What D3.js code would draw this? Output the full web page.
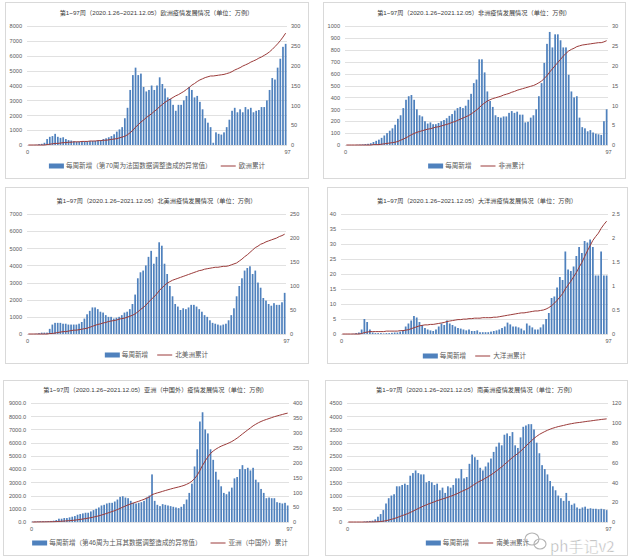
<!DOCTYPE html>
<html><head><meta charset="utf-8">
<script src="https://cdn.jsdelivr.net/npm/d3@7"></script>
<style>
body{margin:0;background:#fff;}
svg{display:block;font-family:"Liberation Sans",Arial,"Noto Sans CJK SC",sans-serif;}
</style></head><body>
<svg id="chart" width="631" height="559"></svg>
<script>
// ---------- data ----------
const weeks = d3.range(1, 98); // week 1..97
const period = "第1~97周（2020.1.26~2021.12.05）";

const europeWeekly = [0,0,5,20,60,80,150,400,550,600, 750,550,480,520,400,330,300,250,220,230, 220,240,250,260,270,280,300,330,400,450, 520,600,720,900,1050,1200,1800,2500,3700,4700, 5200,4700,4800,3900,3600,3700,4000,3700,4000,4550, 4100,3800,3200,3100,2700,2300,2700,2700,3000,3300, 3900,3700,3200,3300,2900,2400,1800,1500,1200,150, 850,750,700,850,1200,1700,2300,2500,2200,2400, 2200,2550,2400,2500,2200,2300,2350,2550,2550,3000, 3700,4500,4400,5200,5800,6600,6800];
const europeTotal = [0,0,0,0,0,0,0,1,2,3, 4,4,5,6,6,7,7,8,8,8, 9,9,9,10,10,10,11,11,12,12, 13,14,15,16,18,20,22,26,31,37, 45,51,58,63,69,74,79,85,90,97, 102,108,112,116,120,124,127,131,135,140, 145,151,155,160,164,167,170,172,174,174, 175,176,177,178,180,182,185,189,192,195, 199,202,205,209,212,215,219,222,226,230, 235,241,248,255,263,272,282];

const africaWeekly = [0,0,0,0,2,3,5,8,10,15, 25,35,45,60,80,100,120,140,170,220, 250,310,380,410,420,380,300,250,240,200, 180,190,175,175,185,200,210,225,245,260, 290,310,320,310,330,380,430,520,550,720, 720,610,450,370,320,250,235,230,240,240, 270,285,270,280,255,255,190,195,230,250, 300,410,520,690,850,950,820,930,930,880, 820,820,590,450,400,410,230,150,140,115, 125,105,95,90,85,200,300];
const africaTotal = [0,0,0,0,0,0,0,0,0,0, 0.1,0.1,0.1,0.2,0.3,0.4,0.5,0.6,0.7,0.9, 1.2,1.5,1.8,2.2,2.6,2.9,3.2,3.4,3.6,3.8, 4.0,4.1,4.3,4.5,4.6,4.8,5.0,5.2,5.4,5.7, 5.9,6.2,6.5,6.8,7.1,7.4,7.8,8.3,8.8,9.4, 10.1,10.6,11.1,11.4,11.7,11.9,12.1,12.3,12.6,12.8, 13.0,13.3,13.5,13.8,14.0,14.2,14.4,14.6,14.8,15.0, 15.3,15.7,16.1,16.8,17.5,18.4,19.2,20.0,20.8,21.6, 22.4,23.1,23.7,24.1,24.4,24.8,25.0,25.2,25.3,25.4, 25.5,25.6,25.7,25.8,25.8,26.0,26.3];

const namWeekly = [0,0,5,20,50,80,80,80,300,550, 650,650,650,600,600,550,550,550,550,600, 700,900,1150,1350,1550,1550,1450,1300,1250,1100, 1000,1000,900,950,1000,1100,1250,1300,1450,1750, 2300,3250,3600,3700,4000,4500,4850,4100,4500,5350, 5150,4100,3500,2800,2200,1750,1600,1400,1500,1450, 1550,1700,1700,1600,1450,1300,1100,1000,800,650, 600,550,500,550,600,800,1100,1500,2200,2800, 3250,3700,3850,3950,3500,3700,3000,2700,2100,1950, 1750,1650,1800,1700,1700,1850,2400];
const namTotal = [0,0,0,0,0,0,0,0,1,1, 2,3,4,5,5,6,7,8,8,9, 10,11,12,14,16,18,20,21,23,24, 26,27,28,29,31,32,33,35,37,39, 42,46,51,55,60,66,72,77,83,90, 96,101,106,109,112,114,116,118,120,122, 124,126,128,130,132,133,135,136,137,138, 139,139,140,141,141,142,144,146,148,152, 156,161,165,170,175,180,183,187,189,192, 194,196,198,200,203,205,208];

const oceWeekly = [0,0,0,0,0.1,0.3,0.5,1.5,5,4, 1.5,0.5,0.3,0.3,0.3,0.2,0.3,0.3,0.4,0.5, 0.5,0.8,1.2,2.5,3.5,4.5,6,5.5,4,3, 2,1.5,1.2,1,1.5,2.5,3.5,3,4.5,3.5, 3,2.5,2,1.8,1.5,1.2,1.5,1,1,1.2, 0.6,0.6,0.6,0.6,0.8,1,1.2,1.5,2,2.5, 3.8,3.2,2.5,2.5,2.2,1.8,1.2,3.5,2.8,2.2, 1.5,1.5,2.2,3.2,5,7,12,12.5,15.5,19, 18,27.5,21.5,21,22.5,26,29,27,31,30.5, 31.5,29,19.5,19.5,27.5,19.5,19.5];
const oceTotal = [0,0,0,0,0,0,0,0.01,0.03,0.04, 0.05,0.05,0.05,0.05,0.05,0.05,0.06,0.06,0.06,0.06, 0.06,0.07,0.07,0.08,0.09,0.11,0.13,0.15,0.17,0.18, 0.19,0.19,0.2,0.2,0.21,0.22,0.23,0.24,0.26,0.27, 0.28,0.29,0.3,0.3,0.31,0.31,0.32,0.32,0.33,0.33, 0.33,0.34,0.34,0.34,0.34,0.35,0.35,0.36,0.37,0.38, 0.39,0.4,0.41,0.42,0.43,0.44,0.44,0.45,0.46,0.47, 0.48,0.48,0.49,0.5,0.52,0.55,0.59,0.64,0.7,0.77, 0.84,0.94,1.02,1.1,1.19,1.28,1.39,1.49,1.61,1.73, 1.84,1.95,2.03,2.1,2.2,2.28,2.35];

const asiaWeekly = [30,40,50,60,60,60,70,80,100,150, 250,250,300,300,350,400,450,550,600,650, 700,700,800,900,1000,1100,1250,1300,1400,1450, 1450,1550,1700,1900,1950,1850,1800,1600,1450,1400, 1450,1500,1600,1850,2000,3600,1600,1300,1200,1350, 1300,1250,1200,1150,1100,1050,1150,1350,1700,2200, 2900,4200,5500,7600,8300,7000,6700,5500,4700,3800, 3200,2700,2200,2100,2300,2600,3300,3400,4000,4300, 4000,4100,3900,4100,3200,3000,2500,2200,1800,1850, 1800,1800,1500,1450,1400,1450,1250];
const asiaTotal = [0,0.1,0.3,0.4,0.5,0.6,0.8,0.9,1.1,1.5, 2.0,2.5,3.1,3.8,4.5,5.3,6.3,7.4,8.6,10.0, 11.5,12.9,14.6,16.5,18.5,20.8,23.4,26.1,29.1,32.1, 35.1,38.3,41.9,45.8,49.9,53.8,57.5,60.8,63.9,66.8, 69.8,72.9,76.3,80.1,84.3,91.8,95.1,97.8,100.3,103.1, 105.8,108.4,110.9,113.3,115.6,117.8,120.2,123.0,126.6,131.1, 137.2,145.9,157.4,173.2,190.5,205.1,219.1,230.5,238.5,244.9, 250.3,254.9,258.6,262.2,266.1,270.5,276.1,281.9,288.7,296.0, 302.8,309.7,316.3,323.2,328.6,333.7,337.9,341.6,344.7,347.8, 350.9,354.0,356.5,359.0,361.4,363.9,366.0];

const samWeekly = [0,0,0,0,0,0,20,30,40,50, 100,200,300,450,700,900,1000,1050,1350,1350, 1400,1450,1400,1750,1850,1950,1850,1800,1800,1500, 1550,1500,1400,1450,1200,1300,1100,1350,1300,1400, 1650,1650,2000,1650,1700,2200,2550,2450,2350,2050, 1950,2100,2250,2400,2650,2850,3000,2900,3300,3350, 3250,3400,2900,2800,3200,3600,3650,3700,3700,3500, 3000,2600,2150,2000,1800,1550,1350,1200,1000,900, 800,1100,800,650,700,550,500,550,580,500, 520,500,500,480,500,480,450];
const samTotal = [0,0,0,0,0,0,0,0,0.1,0.1, 0.2,0.3,0.5,0.8,1.3,2.0,2.7,3.4,4.4,5.4, 6.4,7.4,8.4,9.6,10.9,12.3,13.6,14.9,16.2,17.3, 18.4,19.4,20.4,21.5,22.3,23.3,24.0,25.0,25.9,26.9, 28.1,29.3,30.7,31.9,33.1,34.6,36.4,38.2,39.9,41.3, 42.7,44.2,45.8,47.5,49.4,51.4,53.5,55.6,58.0,60.3, 62.7,65.1,67.1,69.1,71.4,74.0,76.6,79.2,81.8,84.3, 86.4,88.3,89.8,91.2,92.5,93.6,94.6,95.4,96.2,96.8, 97.4,98.1,98.7,99.2,99.7,100.1,100.4,100.8,101.2,101.6, 101.9,102.3,102.7,103.0,103.4,103.7,104.0];

// tick labels
const europeLeftTicks = [0,1000,2000,3000,4000,5000,6000,7000,8000];
const europeRightTicks = [0,50,100,150,200,250,300];
const africaLeftTicks = [0,100,200,300,400,500,600,700,800,900,1000];
const africaRightTicks = [0,5,10,15,20,25,30];
const namLeftTicks = [0,1000,2000,3000,4000,5000,6000,7000];
const namRightTicks = [0,50,100,150,200,250];
const oceLeftTicks = [0,5,10,15,20,25,30,35,40];
const oceRightTicks = [0,0.5,1,1.5,2,2.5];
const asiaLeftTicks = [0,1000,2000,3000,4000,5000,6000,7000,8000,9000];
const asiaRightTicks = [0,50,100,150,200,250,300,350,400];
const samLeftTicks = [0,500,1000,1500,2000,2500,3000,3500,4000,4500];
const samRightTicks = [0,20,40,60,80,100,120];
const xTicks = [0, 97];

const titles = [
  period + "欧洲疫情发展情况（单位：万例）",
  period + "非洲疫情发展情况（单位：万例）",
  period + "北美洲疫情发展情况（单位：万例）",
  period + "大洋洲疫情发展情况（单位：万例）",
  period + "亚洲（中国外）疫情发展情况（单位：万例）",
  period + "南美洲疫情发展情况（单位：万例）"
];
const barLabels = [
  "每周新增（第70周为法国数据调整造成的异常值）", "每周新增", "每周新增",
  "每周新增", "每周新增（第46周为土耳其数据调整造成的异常值）", "每周新增"
];
const lineLabels = ["欧洲累计","非洲累计","北美洲累计","大洋洲累计","亚洲（中国外）累计","南美洲累计"];

// ---------- layout ----------
const BAR = "#4f81bd", LINE = "#9b3b3a", GRID = "#d9d9d9", TXT = "#595959";
const panels = [
  {weekly: europeWeekly, total: europeTotal, lt: europeLeftTicks, rt: europeRightTicks, box:[5,2,303,176], x0:27, x1:287, top:26, bottom:145, titleY:13, legendY:166},
  {weekly: africaWeekly, total: africaTotal, lt: africaLeftTicks, rt: africaRightTicks, box:[323,2,302,176], x0:345, x1:608, top:26, bottom:145, titleY:13, legendY:166},
  {weekly: namWeekly, total: namTotal, lt: namLeftTicks, rt: namRightTicks, box:[5,187,303,176], x0:27, x1:286, top:214, bottom:334, titleY:201, legendY:355},
  {weekly: oceWeekly, total: oceTotal, lt: oceLeftTicks, rt: oceRightTicks, box:[327,187,300,176], x0:341, x1:608, top:214, bottom:334, titleY:201, legendY:356},
  {weekly: asiaWeekly, total: asiaTotal, lt: asiaLeftTicks, rt: asiaRightTicks, box:[3,380,305,175], x0:31, x1:289, top:403, bottom:522, titleY:390, legendY:543, leftFmt: d3.format(".1f")},
  {weekly: samWeekly, total: samTotal, lt: samLeftTicks, rt: samRightTicks, box:[325,380,302,175], x0:347, x1:608, top:403, bottom:522, titleY:390, legendY:543}
];

const svg = d3.select("#chart");
svg.append("rect").attr("width",631).attr("height",559).attr("fill","#fff");

panels.forEach((p, idx) => {
  const g = svg.append("g");
  g.append("rect").attr("x",p.box[0]+0.5).attr("y",p.box[1]+0.5).attr("width",p.box[2]).attr("height",p.box[3])
    .attr("fill","#fff").attr("stroke","#d9d9d9").attr("stroke-width",1);

  const x = d3.scaleLinear().domain([0, 97]).range([p.x0, p.x1]);
  const yL = d3.scaleLinear().domain([0, d3.max(p.lt)]).range([p.bottom, p.top]);
  const yR = d3.scaleLinear().domain([0, d3.max(p.rt)]).range([p.bottom, p.top]);

  // gridlines
  g.append("g").selectAll("line").data(p.lt).join("line")
    .attr("x1",p.x0).attr("x2",p.x1)
    .attr("y1",d=>Math.round(yL(d))+0.5).attr("y2",d=>Math.round(yL(d))+0.5)
    .attr("stroke",GRID).attr("stroke-width",0.8);

  // axes
  const leftAxis = d3.axisLeft(yL).tickValues(p.lt).tickSize(0).tickPadding(5)
    .tickFormat(p.leftFmt || (d=>String(d)));
  const ga = g.append("g").attr("transform",`translate(${p.x0},0)`).call(leftAxis);
  const rightAxis = d3.axisRight(yR).tickValues(p.rt).tickSize(0).tickPadding(4).tickFormat(d=>String(d));
  const gr = g.append("g").attr("transform",`translate(${p.x1},0)`).call(rightAxis);
  const bottomAxis = d3.axisBottom(x).tickValues(xTicks).tickSize(0).tickPadding(5).tickFormat(d=>String(d));
  const gb = g.append("g").attr("transform",`translate(0,${p.bottom})`).call(bottomAxis);
  [ga,gr,gb].forEach(a=>{
    a.select(".domain").remove();
    a.selectAll("text").attr("font-size","5.6px").attr("fill",TXT).attr("font-family","Liberation Sans, Arial, sans-serif");
  });

  // bars
  const step = x(1) - x(0);
  const bw = step * 0.64;
  g.append("g").selectAll("rect").data(p.weekly).join("rect")
    .attr("x",(d,i)=>x(weeks[i]-0.5)-bw/2)
    .attr("y",d=>yL(d))
    .attr("width",bw)
    .attr("height",d=>p.bottom-yL(d))
    .attr("fill",BAR);

  // cumulative line
  const line = d3.line().x((d,i)=>x(weeks[i]-0.5)).y(d=>yR(d));
  g.append("path").datum(p.total).attr("d",line).attr("fill","none")
    .attr("stroke",LINE).attr("stroke-width",1);

  // title
  const cx = p.box[0] + p.box[2]/2;
  g.append("text").attr("x",cx).attr("y",p.titleY).attr("dy","0.35em")
    .attr("text-anchor","middle").attr("font-size","6.2px").attr("fill","#404040").text(titles[idx]);

  // legend
  const lg = g.append("g");
  const t1 = lg.append("text").attr("font-size","6.6px").attr("fill",TXT).attr("dy","0.35em").text(barLabels[idx]);
  const t2 = lg.append("text").attr("font-size","6.6px").attr("fill",TXT).attr("dy","0.35em").text(lineLabels[idx]);
  const w1 = t1.node().getComputedTextLength(), w2 = t2.node().getComputedTextLength();
  const total = 15 + 2 + w1 + 9 + 15 + 3 + w2;
  let lx = (p.x0 + p.x1)/2 - total/2;
  lg.append("rect").attr("x",lx).attr("y",p.legendY-2.5).attr("width",15).attr("height",5).attr("fill",BAR);
  t1.attr("x",lx+17).attr("y",p.legendY);
  const lx2 = lx + 17 + w1 + 9;
  lg.append("line").attr("x1",lx2).attr("x2",lx2+15).attr("y1",p.legendY).attr("y2",p.legendY)
    .attr("stroke",LINE).attr("stroke-width",1);
  t2.attr("x",lx2+18).attr("y",p.legendY);
});

// watermark
const wm = svg.append("g").attr("opacity",0.75);
wm.append("ellipse").attr("cx",532).attr("cy",539).attr("rx",7).attr("ry",6).attr("fill","none").attr("stroke","#9a9a9a").attr("stroke-width",1.1);
wm.append("ellipse").attr("cx",540).attr("cy",544).attr("rx",6).attr("ry",5).attr("fill","none").attr("stroke","#9a9a9a").attr("stroke-width",1.1);
wm.append("text").attr("x",550).attr("y",552).attr("font-size","15px").attr("fill","#8f8f8f")
  .attr("stroke","#fff").attr("stroke-width",0.5).attr("font-family","Noto Sans CJK SC, sans-serif").text("ph手记v2");
</script>
</body></html>
